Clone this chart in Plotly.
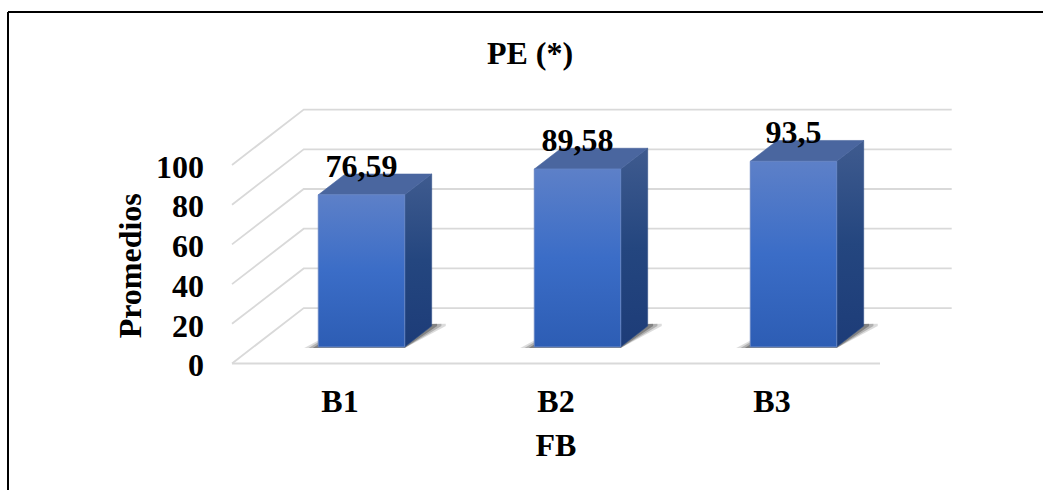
import plotly.graph_objects as go

# Chart data
categories = ["B1", "B2", "B3"]
values = [76.59, 89.58, 93.5]
y_ticks = [0, 20, 40, 60, 80, 100]

# Oblique projection: how far the full floor depth shifts a point, in axis units
DEPTH_X = 0.332
DEPTH_Y = 27.9
BAR_WIDTH = 0.4
BAR_FRONT = 0.3     # depth of a bar's front face, as a share of the floor
BAR_BACK = 0.676    # depth of a bar's back face

# Page layout in pixels
W, H = 1043, 490
PLOT_L, PLOT_R, PLOT_T, PLOT_B = 228, 956, 105, 370        # area holding the drawn box
FRONT_L, FRONT_R, FRONT_T, FRONT_B = 232, 880, 165, 363.5  # front plane of the box
TICK_NUDGE = 1.5                                           # value axis labels sit slightly lower
PX_X = (FRONT_R - FRONT_L) / 3
PX_Y = (FRONT_B - FRONT_T) / 100
PLOT_W, PLOT_H = PLOT_R - PLOT_L, PLOT_B - PLOT_T

FONT = dict(family="Liberation Serif", size=32, color="black")
GRID = "#D9D9D9"


def project(x, y, depth):
    return x + depth * DEPTH_X, y + depth * DEPTH_Y


def polygon(points, **style):
    xs, ys = zip(*points)
    return go.Scatter(
        x=list(xs) + [xs[0]], y=list(ys) + [ys[0]],
        mode="lines", fill="toself",
        hoverinfo="skip", showlegend=False, **style,
    )


def paper_x(px):
    return (px - PLOT_L) / PLOT_W


def paper_y(px):
    return (PLOT_B - px) / PLOT_H


fig = go.Figure()

# Walls: one line per tick, running up the side wall and along the back wall
x_left, x_right = -0.5, 2.5
for t in y_ticks:
    p0 = project(x_left, t, 0)
    p1 = project(x_left, t, 1)
    p2 = project(x_right, t, 1)
    fig.add_trace(go.Scatter(
        x=[p0[0], p1[0], p2[0]], y=[p0[1], p1[1], p2[1]],
        mode="lines", line=dict(color=GRID, width=1.8),
        hoverinfo="skip", showlegend=False,
    ))

# Front edge of the floor
fig.add_trace(go.Scatter(
    x=[x_left, x_right], y=[0, 0], mode="lines",
    line=dict(color=GRID, width=1.8),
    hoverinfo="skip", showlegend=False,
))

for i, v in enumerate(values):
    left, right = i - BAR_WIDTH / 2, i + BAR_WIDTH / 2

    # Soft contact shadow on the floor, built from stacked translucent layers
    for grow, alpha in [(0.065, 0.16), (0.045, 0.24), (0.025, 0.34)]:
        fig.add_trace(polygon(
            [
                project(left - grow, -0.6, BAR_FRONT),
                project(right, -0.6, BAR_FRONT),
                project(right + grow, 0, BAR_BACK),
                project(right + grow, 1.2, BAR_BACK),
                project(left, 0, BAR_BACK),
            ],
            line=dict(width=0),
            fillcolor=f"rgba(40,40,40,{alpha})",
        ))

    # Right side face
    fig.add_trace(polygon(
        [project(right, 0, BAR_FRONT), project(right, 0, BAR_BACK),
         project(right, v, BAR_BACK), project(right, v, BAR_FRONT)],
        line=dict(width=0.6, color="#2F4F86"),
        fillgradient=dict(
            type="vertical",
            colorscale=[[0, "#1D3C78"], [0.5, "#24467F"], [1, "#3F5B8F"]],
        ),
    ))

    # Top face
    fig.add_trace(polygon(
        [project(left, v, BAR_FRONT), project(right, v, BAR_FRONT),
         project(right, v, BAR_BACK), project(left, v, BAR_BACK)],
        line=dict(width=0.6, color="#4A669F"),
        fillcolor="#4A669F",
    ))

    # Front face
    fig.add_trace(polygon(
        [project(left, 0, BAR_FRONT), project(right, 0, BAR_FRONT),
         project(right, v, BAR_FRONT), project(left, v, BAR_FRONT)],
        line=dict(width=1, color="#6484C4"),
        fillgradient=dict(
            type="vertical",
            colorscale=[[0, "#2D5DB4"], [0.5, "#3B6DC7"], [1, "#5D80C8"]],
        ),
    ))

# Value labels above each bar
label_points = [project(i, v, BAR_FRONT) for i, v in enumerate(values)]
fig.add_trace(go.Scatter(
    x=[p[0] for p in label_points],
    y=[p[1] + 13.2 for p in label_points],
    mode="text",
    text=[f"<b>{str(v).replace('.', ',')}</b>" for v in values],
    textposition="middle center",
    textfont=FONT,
    cliponaxis=False, hoverinfo="skip", showlegend=False,
))

# Values on the front-plane axes, so those axes draw their ticks and titles
fig.add_trace(go.Scatter(
    x=list(range(len(categories))), y=values,
    xaxis="x2", yaxis="y2",
    mode="markers", marker=dict(opacity=0),
    hoverinfo="skip", showlegend=False,
))

fig.update_layout(
    width=W, height=H, autosize=False,
    margin=dict(l=PLOT_L, r=W - PLOT_R, t=PLOT_T, b=H - PLOT_B),
    paper_bgcolor="white", plot_bgcolor="rgba(0,0,0,0)",
    showlegend=False,
    font=FONT,
    title=dict(
        text="<b>PE (*)</b>", font=FONT,
        x=paper_x(530), xref="paper", xanchor="center",
        y=1 - 53 / H, yref="container", yanchor="middle",
    ),
    # Axes spanning the whole box: they place the walls and bars
    xaxis=dict(
        domain=[0, 1], visible=False,
        range=[-0.5 - (FRONT_L - PLOT_L) / PX_X, -0.5 + (PLOT_R - FRONT_L) / PX_X],
    ),
    yaxis=dict(
        domain=[0, 1], visible=False,
        range=[-(PLOT_B - FRONT_B) / PX_Y, (FRONT_B - PLOT_T) / PX_Y],
    ),
    # Axes on the front plane: they show the ticks and titles
    xaxis2=dict(
        domain=[paper_x(FRONT_L), paper_x(FRONT_R)], anchor="y2",
        range=[-0.5, 2.5], tickmode="array",
        tickvals=list(range(len(categories))),
        ticktext=[f"<b>{c}</b>" for c in categories],
        showgrid=False, zeroline=False, showline=False, ticks="",
        ticklabelstandoff=14, tickfont=FONT,
        title=dict(text="<b>FB</b>", font=FONT, standoff=15),
    ),
    yaxis2=dict(
        domain=[paper_y(FRONT_B + TICK_NUDGE), paper_y(FRONT_T + TICK_NUDGE)],
        anchor="x2",
        range=[0, 100], tickmode="array", tickvals=y_ticks,
        ticktext=[f"<b>{t}</b>" for t in y_ticks],
        showgrid=False, zeroline=False, showline=False, ticks="",
        ticklabelstandoff=27, tickfont=FONT,
        title=dict(text="<b>Promedios</b>", font=FONT, standoff=4),
    ),
    # Outer frame: only the top and left edges fall inside the page
    shapes=[
        dict(type="line", xref="paper", yref="paper",
             x0=paper_x(8), x1=paper_x(W), y0=paper_y(12), y1=paper_y(12),
             line=dict(color="black", width=2)),
        dict(type="line", xref="paper", yref="paper",
             x0=paper_x(8), x1=paper_x(8), y0=paper_y(H), y1=paper_y(12),
             line=dict(color="black", width=2)),
    ],
)

fig.write_html("out.html")
